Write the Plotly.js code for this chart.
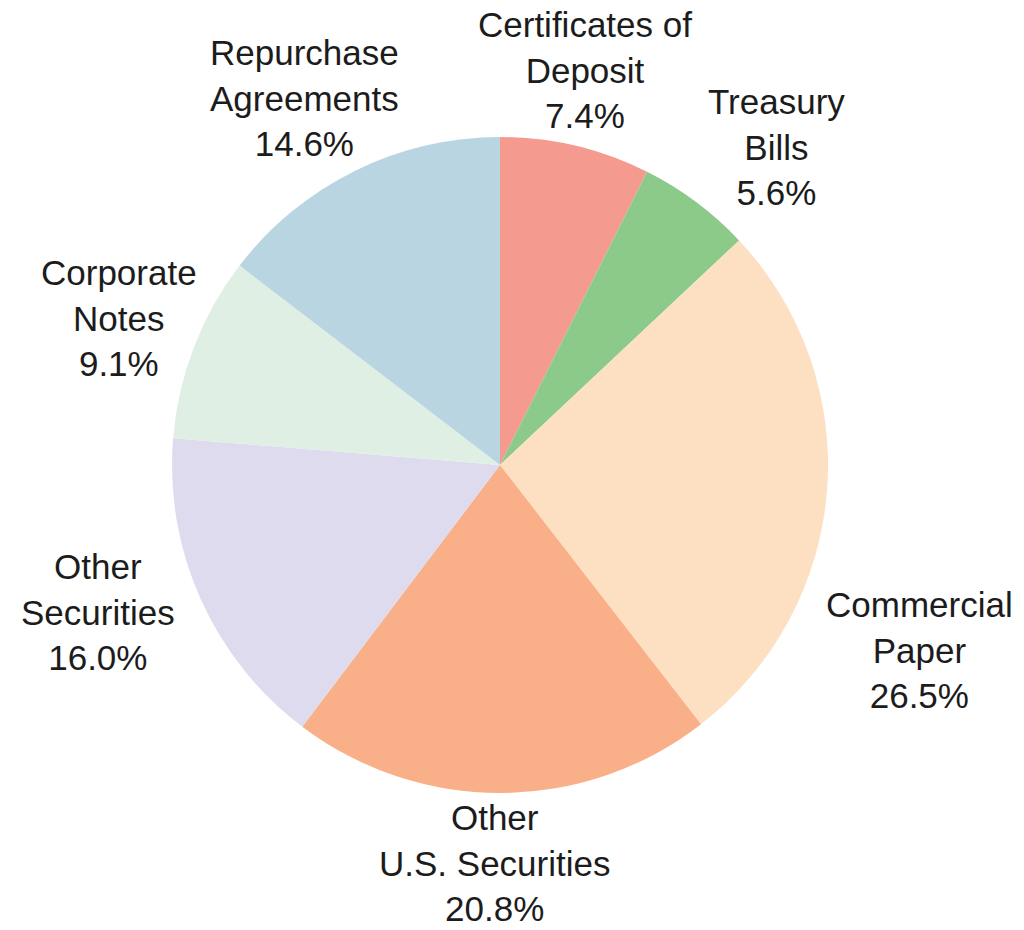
<!DOCTYPE html>
<html>
<head>
<meta charset="utf-8">
<script src="https://cdn.plot.ly/plotly-3.0.1.min.js"></script>
<style>html,body{margin:0;padding:0;background:#fff;}#chart{width:1024px;height:930px;}</style>
</head>
<body>
<div id="chart"></div>
<script>
const categories = ["Certificates of<br>Deposit", "Treasury<br>Bills", "Commercial<br>Paper", "Other<br>U.S. Securities", "Other<br>Securities", "Corporate<br>Notes", "Repurchase<br>Agreements"];
const shares = [7.4, 5.6, 26.5, 20.8, 16.0, 9.1, 14.6];
const colors = ["#F49A8E", "#8BCA89", "#FDE0C2", "#F9B089", "#DEDBEE", "#E0EFE3", "#BAD5E2"];

// layout geometry (pixels)
const W = 1024, H = 930;
const M = {l: 172, r: 196, t: 137, b: 137};
const plotW = W - M.l - M.r, plotH = H - M.t - M.b;
const cx = M.l + plotW / 2, cy = M.t + plotH / 2;
// per-label placement tweaks (angle offset in degrees, distance from centre in px)
const angleNudge = [-1.2, 4.3, 19.3, 1.1, 4.1, 0, -1.7];
const labelDist = [404, 422, 459, 398, 428, 408, 416];

const total = shares.reduce((a, b) => a + b, 0);
let cum = 0;
const annotations = shares.map((v, i) => {
  const mid = (cum + v / 2) / total * 360;
  cum += v;
  const ang = (mid + angleNudge[i]) * Math.PI / 180;
  const px = cx + labelDist[i] * Math.sin(ang);
  const py = cy - labelDist[i] * Math.cos(ang);
  return {
    xref: "paper", yref: "paper",
    x: (px - M.l) / plotW,
    y: (H - M.b - py) / plotH,
    xanchor: "center", yanchor: "middle", align: "center",
    showarrow: false,
    text: categories[i] + "<br>" + v.toFixed(1) + "%",
    font: {family: "Liberation Sans, Arial, sans-serif", size: 35, color: "#1c1c1c"}
  };
});

const trace = {
  type: "pie",
  values: shares,
  labels: categories,
  sort: false,
  direction: "clockwise",
  rotation: 0,
  marker: {colors: colors, line: {width: 0}},
  textinfo: "none",
  hoverinfo: "none",
  showlegend: false,
  automargin: false
};

const layout = {
  width: W, height: H,
  margin: M,
  paper_bgcolor: "#fff",
  showlegend: false,
  annotations: annotations
};

Plotly.newPlot("chart", [trace], layout, {staticPlot: true});
</script>
</body>
</html>
